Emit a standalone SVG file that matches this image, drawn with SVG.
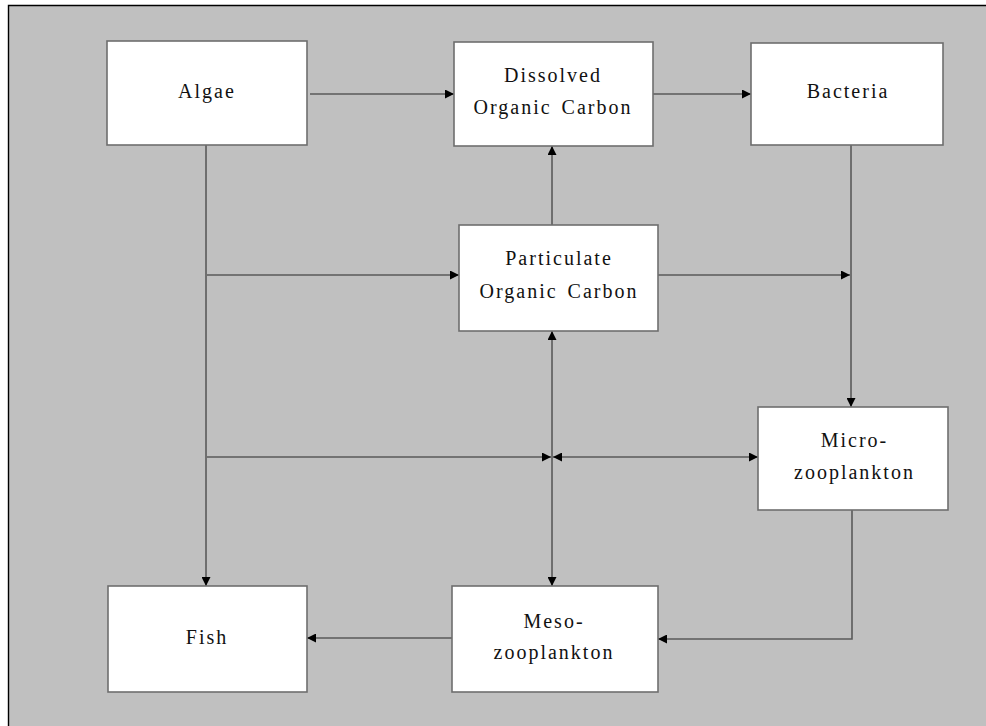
<svg xmlns="http://www.w3.org/2000/svg" width="986" height="726" viewBox="0 0 986 726">
  <style>
    .box { fill: #ffffff; stroke: #6e6e6e; stroke-width: 1.6; }
    .lbl { font-family: "Liberation Serif", "Times New Roman", serif; font-size: 20px; letter-spacing: 2px; word-spacing: 3px; fill: #111111; text-anchor: middle; }
    .wire { fill: none; stroke: #5a5a5a; stroke-width: 1.6; }
  </style>
  <defs>
    <marker id="head" viewBox="0 0 10 10" refX="10" refY="5" markerUnits="userSpaceOnUse" markerWidth="10" markerHeight="9" orient="auto-start-reverse">
      <path d="M0,0 L10,5 L0,10 z" fill="#000000"/>
    </marker>
  </defs>

  <!-- page frame -->
  <rect x="0" y="0" width="986" height="726" fill="#ffffff"/>
  <rect x="9" y="6" width="977" height="720" fill="#c0c0c0"/>
  <path d="M8.5,726 V5.5 H986" fill="none" stroke="#000000" stroke-width="1.4"/>

  <!-- connectors -->
  <g id="connectors">
    <path class="wire" d="M310,94 H454" marker-end="url(#head)"/>
    <path class="wire" d="M653,94 H751" marker-end="url(#head)"/>
    <path class="wire" d="M851,145 V407" marker-end="url(#head)"/>
    <path class="wire" d="M206,145 V586" marker-end="url(#head)"/>
    <path class="wire" d="M207,275 H459" marker-end="url(#head)"/>
    <path class="wire" d="M552,225 V146" marker-end="url(#head)"/>
    <path class="wire" d="M658,275 H850" marker-end="url(#head)"/>
    <path class="wire" d="M552,331 V586" marker-start="url(#head)" marker-end="url(#head)"/>
    <path class="wire" d="M207,457 H551" marker-end="url(#head)"/>
    <path class="wire" d="M553,457 H758" marker-start="url(#head)" marker-end="url(#head)"/>
    <path class="wire" d="M852,510 V639 H658" marker-end="url(#head)"/>
    <path class="wire" d="M452,638 H307" marker-end="url(#head)"/>
  </g>

  <!-- nodes -->
  <g id="algae">
    <rect class="box" x="107" y="41" width="200" height="104"/>
    <text class="lbl" x="207" y="98">Algae</text>
  </g>
  <g id="doc">
    <rect class="box" x="454" y="42" width="199" height="104"/>
    <text class="lbl" x="553" y="82">Dissolved</text>
    <text class="lbl" x="553" y="114">Organic Carbon</text>
  </g>
  <g id="bacteria">
    <rect class="box" x="751" y="43" width="192" height="102"/>
    <text class="lbl" x="848" y="98">Bacteria</text>
  </g>
  <g id="poc">
    <rect class="box" x="459" y="225" width="199" height="106"/>
    <text class="lbl" x="559" y="265">Particulate</text>
    <text class="lbl" x="559" y="298">Organic Carbon</text>
  </g>
  <g id="microzooplankton">
    <rect class="box" x="758" y="407" width="190" height="103"/>
    <text class="lbl" x="854.5" y="447">Micro-</text>
    <text class="lbl" x="854.5" y="479">zooplankton</text>
  </g>
  <g id="fish">
    <rect class="box" x="108" y="586" width="199" height="106"/>
    <text class="lbl" x="207" y="644">Fish</text>
  </g>
  <g id="mesozooplankton">
    <rect class="box" x="452" y="586" width="206" height="106"/>
    <text class="lbl" x="554" y="628">Meso-</text>
    <text class="lbl" x="554" y="659">zooplankton</text>
  </g>
</svg>
